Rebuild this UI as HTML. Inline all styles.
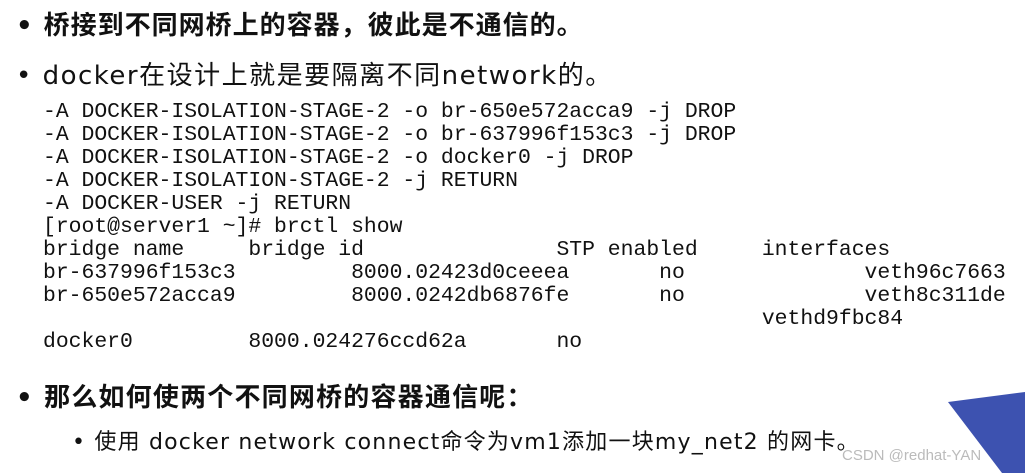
<!DOCTYPE html>
<html><head><meta charset="utf-8"><style>
body{margin:0;width:1025px;height:473px;background:#fff;overflow:hidden;position:relative;font-family:"DejaVu Sans","Noto Sans CJK SC",sans-serif;color:#111}
.b{position:absolute;white-space:nowrap}
.h{font-size:26px;font-weight:600;}
.m{position:absolute;left:43px;font-family:"Liberation Mono","DejaVu Sans Mono",monospace;font-size:21.4px;line-height:23px;white-space:pre;color:#111;top:101px}
</style></head><body>
<div class="b h" style="left:16px;top:5px;letter-spacing:1px">•&nbsp;桥接到不同网桥上的容器，彼此是不通信的。</div>
<div class="b" style="left:16px;top:55px;font-size:26px;letter-spacing:1.5px">•&nbsp;docker在设计上就是要隔离不同network的。</div>
<div class="m">-A DOCKER-ISOLATION-STAGE-2 -o br-650e572acca9 -j DROP
-A DOCKER-ISOLATION-STAGE-2 -o br-637996f153c3 -j DROP
-A DOCKER-ISOLATION-STAGE-2 -o docker0 -j DROP
-A DOCKER-ISOLATION-STAGE-2 -j RETURN
-A DOCKER-USER -j RETURN
[root@server1 ~]# brctl show
bridge name     bridge id               STP enabled     interfaces
br-637996f153c3         8000.02423d0ceeea       no              veth96c7663
br-650e572acca9         8000.0242db6876fe       no              veth8c311de
                                                        vethd9fbc84
docker0         8000.024276ccd62a       no</div>
<div class="b h" style="left:16px;top:377px;letter-spacing:1.2px">•&nbsp;那么如何使两个不同网桥的容器通信呢：</div>
<div class="b" style="left:72px;top:424px;font-size:22px;letter-spacing:1.2px">•&nbsp;使用 docker network connect命令为vm1添加一块my_net2 的网卡。</div>
<svg style="position:absolute;left:0;top:0" width="1025" height="473"><polygon points="948,402 1025,392 1025,473 1002,473" fill="#3d52b0"/></svg>
<div class="b" style="left:842px;top:447px;font-size:15px;color:#bbb;font-family:'Liberation Sans',sans-serif">CSDN @redhat-YAN</div>
</body></html>
